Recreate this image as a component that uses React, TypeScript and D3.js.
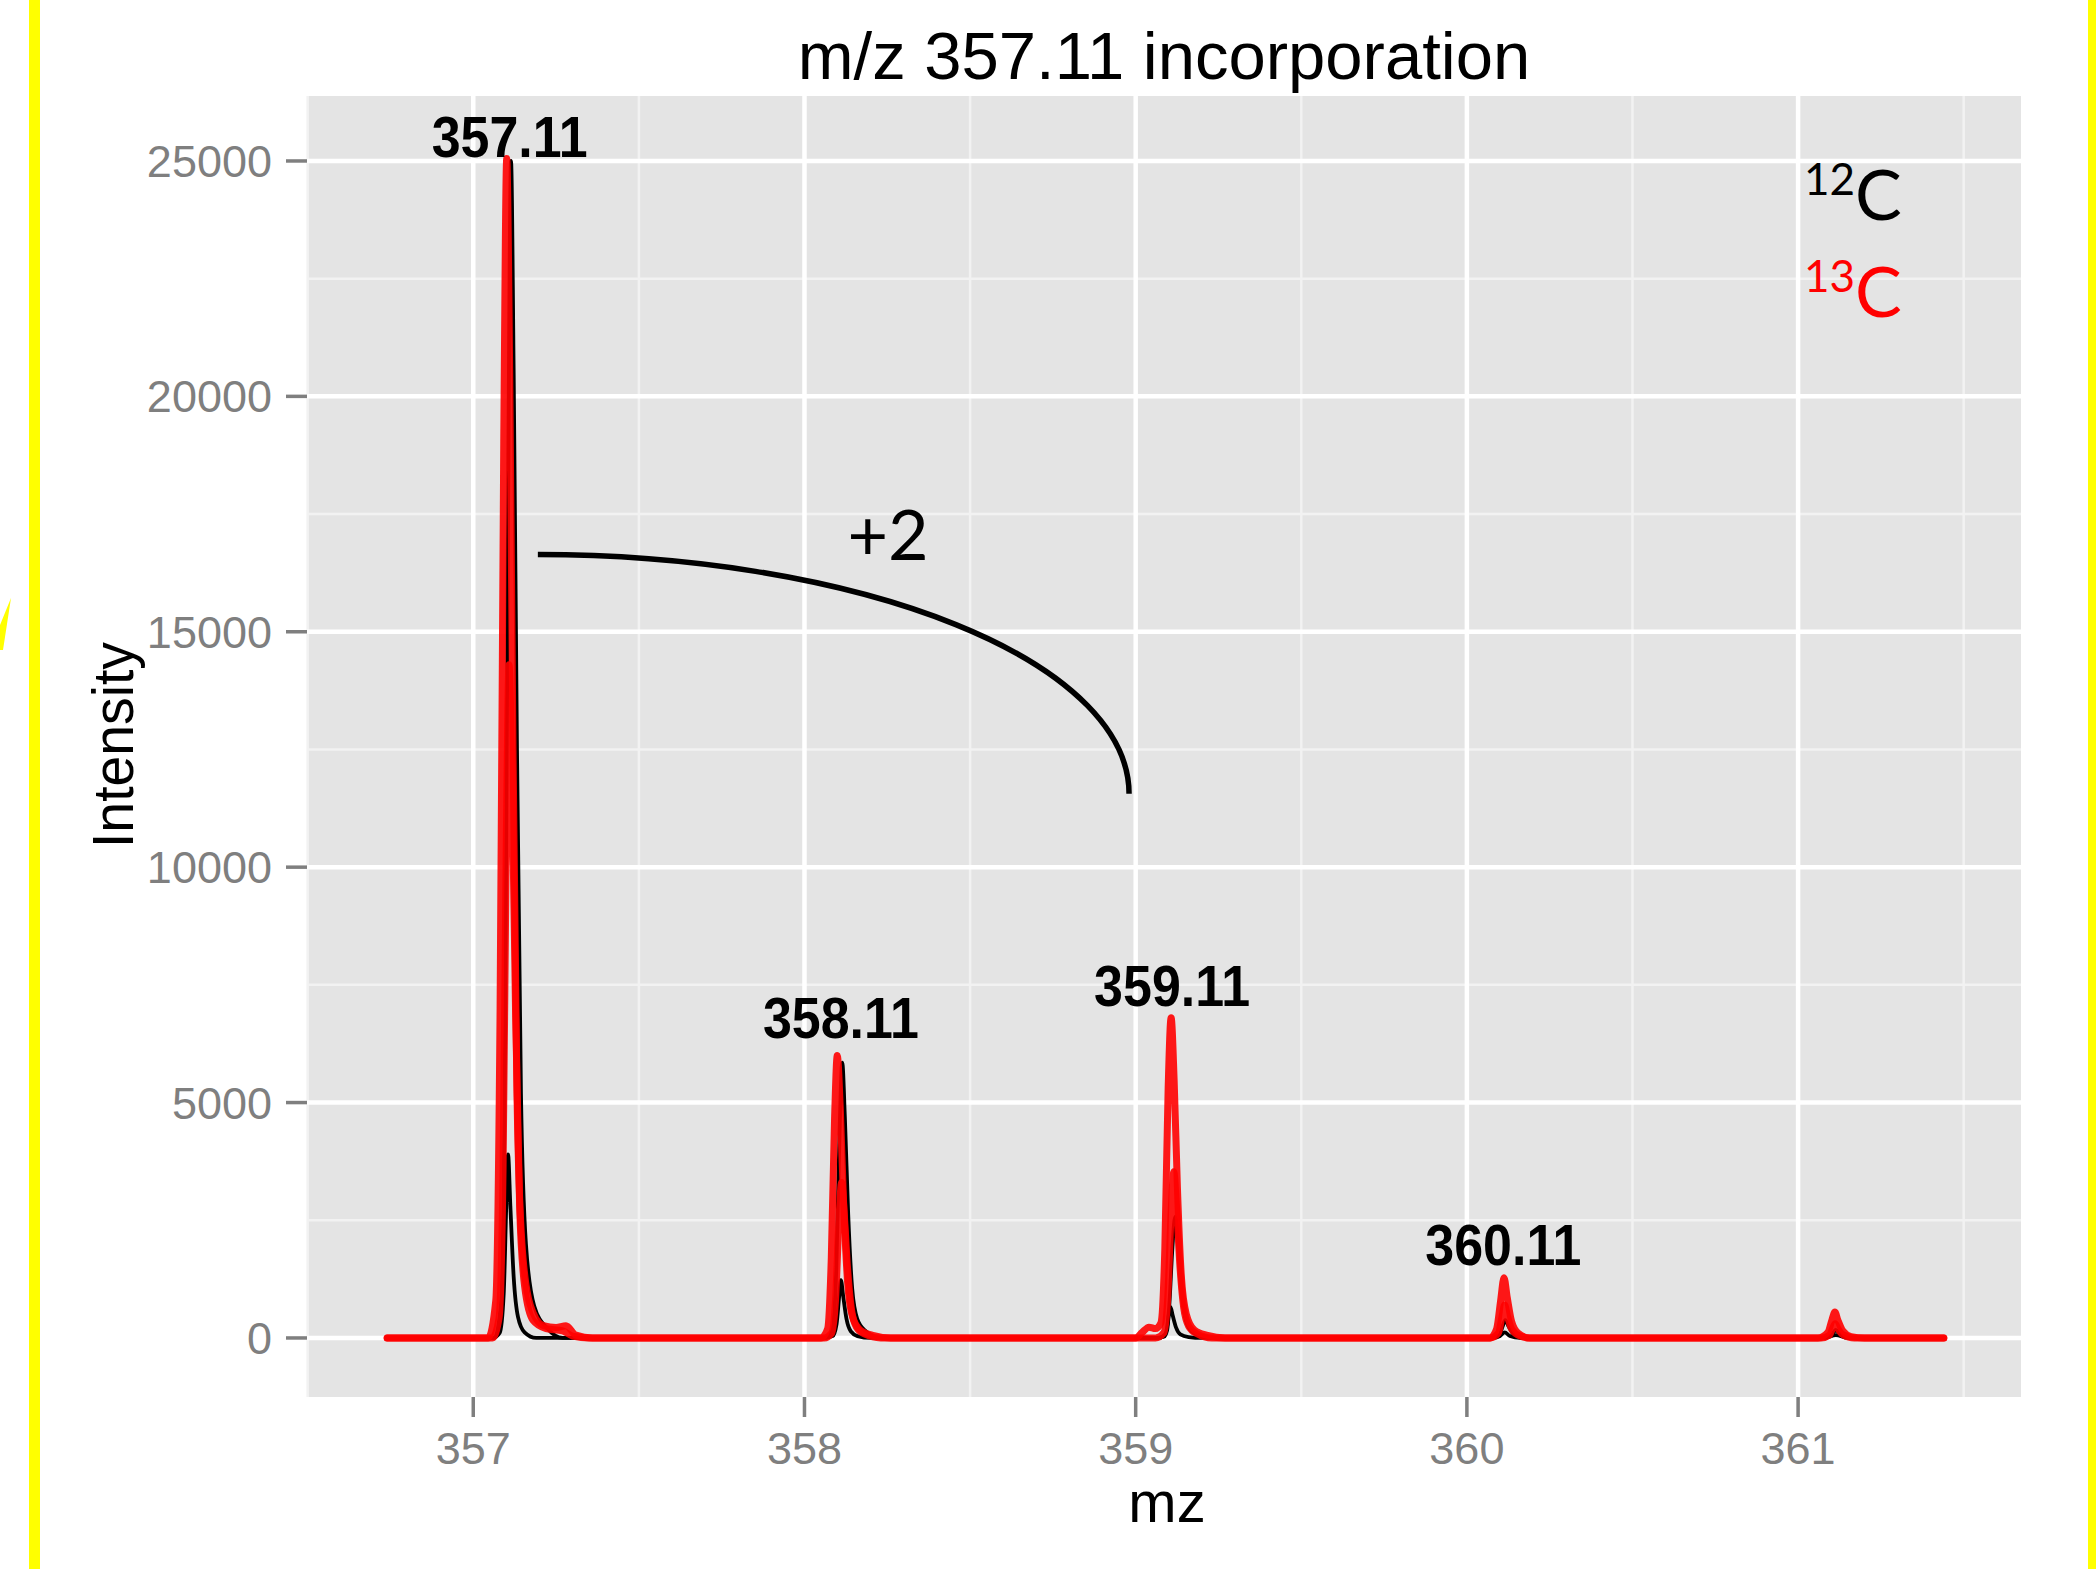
import React from "react";
import * as d3 from "d3";

// ---------- data ----------
const X_TICKS = [357, 358, 359, 360, 361];
const X_MINOR = [356.5, 357.5, 358.5, 359.5, 360.5, 361.5];
const Y_TICKS = [0, 5000, 10000, 15000, 20000, 25000];
const Y_MINOR = [2500, 7500, 12500, 17500, 22500];

// 12C traces (black)
const C12_REP1: [number, number][] = [
  [356.74, 0], [357.064, 0], [357.084, 750], [357.096, 6250], [357.106, 18750], [357.114, 25000],
  [357.122, 20500], [357.132, 12500], [357.144, 5200], [357.159, 2000], [357.184, 680], [357.224, 200], [357.27, 0],
  [358.064, 0], [358.084, 175], [358.096, 1460], [358.106, 4390], [358.114, 5850], [358.122, 4680],
  [358.132, 2630], [358.144, 1050], [358.159, 410], [358.184, 150], [358.23, 0],
  [359.07, 0], [359.089, 80], [359.101, 640], [359.111, 1930], [359.119, 2570], [359.127, 2060],
  [359.137, 1160], [359.149, 460], [359.164, 180], [359.19, 60], [359.24, 0],
  [360.075, 0], [360.098, 60], [360.108, 250], [360.116, 380], [360.125, 260], [360.14, 90], [360.17, 0],
  [361.075, 0], [361.1, 50], [361.114, 170], [361.128, 60], [361.16, 0], [361.44, 0],
];
const C12_REP2: [number, number][] = [
  [356.74, 0], [357.06, 0], [357.08, 110], [357.092, 950], [357.1, 2900], [357.105, 3900],
  [357.112, 2800], [357.122, 1300], [357.135, 450], [357.155, 120], [357.19, 0],
  [358.06, 0], [358.085, 40], [358.097, 300], [358.105, 900], [358.11, 1230], [358.117, 880],
  [358.127, 400], [358.14, 140], [358.16, 40], [358.2, 0],
  [359.06, 0], [359.085, 25], [359.095, 170], [359.1, 490], [359.105, 660], [359.112, 470],
  [359.122, 220], [359.135, 75], [359.16, 20], [359.2, 0],
  [360.08, 0], [360.1, 40], [360.114, 120], [360.13, 40], [360.16, 0],
  [361.08, 0], [361.114, 60], [361.15, 0], [361.44, 0],
];

// 13C traces (red)
const C13_REP1: [number, number][] = [
  [356.74, 0], [357.045, 0], [357.068, 800], [357.081, 7000], [357.092, 19000], [357.101, 25050],
  [357.11, 20500], [357.12, 12500], [357.132, 5200], [357.147, 2000], [357.172, 700], [357.212, 260],
  [357.25, 220], [357.28, 260], [357.31, 60], [357.36, 0],
  [358.05, 0], [358.07, 200], [358.081, 1700], [358.091, 4700], [358.099, 6000], [358.108, 4900],
  [358.118, 2900], [358.13, 1200], [358.145, 450], [358.17, 160], [358.21, 50], [358.26, 0],
  [359.0, 0], [359.02, 120], [359.04, 230], [359.06, 200], [359.076, 320], [359.088, 1900],
  [359.098, 5300], [359.107, 6800], [359.116, 5500], [359.126, 3200], [359.138, 1300], [359.153, 500],
  [359.177, 170], [359.217, 55], [359.27, 0],
  [360.07, 0], [360.09, 200], [360.102, 800], [360.112, 1280], [360.122, 850], [360.135, 350],
  [360.155, 100], [360.19, 0],
  [361.06, 0], [361.09, 120], [361.102, 380], [361.111, 550], [361.12, 380], [361.135, 150],
  [361.16, 30], [361.2, 0], [361.44, 0],
];
const C13_REP2: [number, number][] = [
  [356.74, 0], [357.058, 0], [357.078, 430], [357.09, 3600], [357.1, 10700], [357.108, 14300],
  [357.117, 11800], [357.128, 6800], [357.14, 2800], [357.155, 1100], [357.18, 380], [357.22, 200],
  [357.27, 150], [357.3, 40], [357.35, 0],
  [358.06, 0], [358.082, 100], [358.094, 830], [358.104, 2480], [358.112, 3300], [358.12, 2640],
  [358.13, 1490], [358.142, 600], [358.157, 230], [358.182, 80], [358.23, 0],
  [359.06, 0], [359.085, 110], [359.097, 880], [359.107, 2650], [359.115, 3530], [359.123, 2820],
  [359.133, 1590], [359.145, 640], [359.16, 250], [359.185, 90], [359.23, 0],
  [360.07, 0], [360.095, 100], [360.106, 450], [360.114, 700], [360.122, 480], [360.135, 190],
  [360.16, 40], [360.19, 0],
  [361.07, 0], [361.095, 60], [361.104, 200], [361.112, 300], [361.12, 200], [361.135, 70],
  [361.17, 0], [361.44, 0],
];

const PEAK_LABELS = ["357.11", "358.11", "359.11", "360.11"];
const PEAK_MZ = [357.11, 358.11, 359.11, 360.11];
const PEAK_LABEL_Y = [25080, 6375, 7055, 1551];

// "+2" annotation arc (data coords)
const ARC_START: [number, number] = [357.195, 16640];
const ARC_END: [number, number] = [358.98, 11560];
const SHIFT_LABEL = "+2";
const SHIFT_LABEL_POS: [number, number] = [358.13, 16530];

const LEGEND = [
  { iso: "12", el: "C", color: "#000000" },
  { iso: "13", el: "C", color: "#FF0000" },
];

// ---------- layout ----------
const W = 2096;
const H = 1569;
const PL = 307, PR = 2021, PT = 96, PB = 1397;

const x = d3.scaleLinear().domain([356.498, 361.673]).range([PL, PR]);
const y = d3.scaleLinear().domain([-1254, 26380]).range([PB, PT]);

const line = d3
  .line<[number, number]>()
  .x((d) => x(d[0]))
  .y((d) => y(d[1]))
  .curve(d3.curveMonotoneX);

const SANS = "'Liberation Sans', Arial, Helvetica, sans-serif";
const HUMAN = "Lato, 'Open Sans', 'Noto Sans', sans-serif";
const GREY = "#7F7F7F";

export default function App() {
  const ax0 = x(ARC_START[0]), ay0 = y(ARC_START[1]);
  const ax1 = x(ARC_END[0]), ay1 = y(ARC_END[1]);
  const rx = ax1 - ax0, ry = ay1 - ay0;
  const arcPath = `M${ax0},${ay0} A${rx},${ry} 0 0,1 ${ax1},${ay1}`;

  return (
    <svg
      width={W}
      height={H}
      viewBox={`0 0 ${W} ${H}`}
      style={{ position: "absolute", left: 0, top: 0, background: "#fff" }}
    >
      <rect x={0} y={0} width={W} height={H} fill="#ffffff" />
      {/* yellow frame fragments */}
      <rect x={29} y={0} width={11} height={H} fill="#FFFF00" />
      <rect x={2088} y={0} width={8} height={H} fill="#FFFF00" />
      <polygon points="0,625 11,598 3,650 0,650" fill="#FFFF00" />

      {/* title */}
      <text x={(PL + PR) / 2} y={79} textAnchor="middle" fontFamily={SANS} fontSize={67} fill="#000">
        m/z 357.11 incorporation
      </text>

      {/* panel */}
      <rect x={PL} y={PT} width={PR - PL} height={PB - PT} fill="#E4E4E4" />
      {X_MINOR.map((v) => (
        <line key={"xm" + v} x1={x(v)} x2={x(v)} y1={PT} y2={PB} stroke="#F2F2F2" strokeWidth={2.5} />
      ))}
      {Y_MINOR.map((v) => (
        <line key={"ym" + v} x1={PL} x2={PR} y1={y(v)} y2={y(v)} stroke="#F2F2F2" strokeWidth={2.5} />
      ))}
      {X_TICKS.map((v) => (
        <line key={"xg" + v} x1={x(v)} x2={x(v)} y1={PT} y2={PB} stroke="#FFFFFF" strokeWidth={4.5} />
      ))}
      {Y_TICKS.map((v) => (
        <line key={"yg" + v} x1={PL} x2={PR} y1={y(v)} y2={y(v)} stroke="#FFFFFF" strokeWidth={4.5} />
      ))}

      {/* spectra */}
      <g fill="none" strokeLinejoin="round" strokeLinecap="round">
        <path d={line(C12_REP1) || ""} stroke="#000" strokeWidth={3.8} />
        <path d={line(C12_REP2) || ""} stroke="#000" strokeWidth={3.8} />
        <path d={line(C13_REP2) || ""} stroke="#FF0000" strokeWidth={7} strokeOpacity={0.9} />
        <path d={line(C13_REP1) || ""} stroke="#FF0000" strokeWidth={7} strokeOpacity={0.9} />
      </g>

      {/* peak labels */}
      {PEAK_LABELS.map((t, i) => (
        <text
          key={t}
          x={x(PEAK_MZ[i])}
          y={y(PEAK_LABEL_Y[i])}
          textAnchor="middle"
          fontFamily={SANS}
          fontWeight="bold"
          fontSize={57}
          textLength={156}
          lengthAdjust="spacingAndGlyphs"
          fill="#000"
        >
          {t}
        </text>
      ))}

      {/* +2 annotation */}
      <path d={arcPath} fill="none" stroke="#000" strokeWidth={5.5} />
      <text x={x(SHIFT_LABEL_POS[0])} y={y(SHIFT_LABEL_POS[1])} fontFamily={HUMAN} fontSize={70} fill="#000">
        {SHIFT_LABEL}
      </text>

      {/* legend */}
      {LEGEND.map((l, i) => (
        <text key={l.iso} x={1804} y={220 + i * 97} fontFamily={HUMAN} fill={l.color}>
          <tspan fontSize={44} dy={-25}>{l.iso}</tspan>
          <tspan fontSize={70} dy={25}>{l.el}</tspan>
        </text>
      ))}

      {/* y axis */}
      {Y_TICKS.map((v) => (
        <g key={"yt" + v}>
          <line x1={PL - 21} x2={PL} y1={y(v)} y2={y(v)} stroke={GREY} strokeWidth={3.5} />
          <text x={272} y={y(v) + 16} textAnchor="end" fontFamily={SANS} fontSize={45} fill={GREY}>
            {v}
          </text>
        </g>
      ))}
      {/* x axis */}
      {X_TICKS.map((v) => (
        <g key={"xt" + v}>
          <line x1={x(v)} x2={x(v)} y1={PB} y2={PB + 20} stroke={GREY} strokeWidth={3.5} />
          <text x={x(v)} y={1464} textAnchor="middle" fontFamily={SANS} fontSize={45} fill={GREY}>
            {v}
          </text>
        </g>
      ))}

      {/* axis titles */}
      <text x={(PL + PR) / 2 + 3} y={1522} textAnchor="middle" fontFamily={SANS} fontSize={58} fill="#000">
        mz
      </text>
      <text
        transform={`translate(133, 745) rotate(-90)`}
        textAnchor="middle"
        fontFamily={SANS}
        fontSize={58}
        textLength={206}
        lengthAdjust="spacingAndGlyphs"
        fill="#000"
      >
        Intensity
      </text>
    </svg>
  );
}
